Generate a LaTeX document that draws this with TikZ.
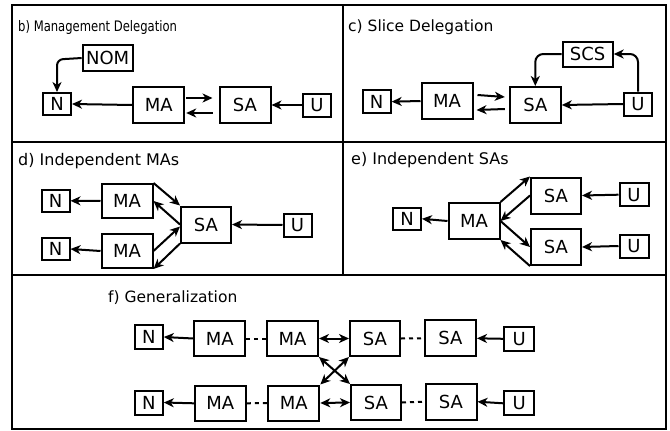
\documentclass[tikz,border=0pt]{standalone}
\usepackage{fontspec}
\setmainfont{DejaVu Sans}
\newfontfamily\condtitle[FakeStretch=0.8]{DejaVu Sans}
\newfontfamily\condnode[FakeStretch=0.85]{DejaVu Sans}
\usetikzlibrary{arrows.meta,calc}
\begin{document}
\begin{tikzpicture}[x=1pt,y=-1pt,
  bx/.style={draw,line width=2pt,inner sep=0pt,font=\fontsize{18}{18}\selectfont},
  bigbox/.style={bx,minimum width=51pt,minimum height=35pt},
  smallbox/.style={bx,minimum width=28pt,minimum height=23pt},
  nombox/.style={bx,minimum width=50pt,minimum height=26pt},
  ttl/.style={anchor=west,inner sep=0pt,font=\fontsize{15.5}{15.5}\selectfont},
  arr/.style={-{Stealth[length=10pt,width=9pt,inset=3pt]},line width=2pt},
  dbl/.style={{Stealth[length=10pt,width=9pt,inset=3pt]}-{Stealth[length=10pt,width=9pt,inset=3pt]},line width=2pt},
  dsh/.style={line width=2pt,dash pattern=on 4pt off 4pt},
  frame/.style={line width=2.3pt}]
\useasboundingbox (0,0) rectangle (670,431);
% frame
\draw[frame] (12,5) rectangle (666,429);
\draw[frame] (12,142) -- (666,142);
\draw[frame] (12,275) -- (666,275);
\draw[frame] (343,5) -- (343,275);
% titles
\node[ttl,font=\condtitle\fontsize{14.5}{14.5}\selectfont] (tb) at (18,27) {b) Management Delegation};
\node[ttl,font=\fontsize{15.5}{15.5}\selectfont] (tc) at (348,27) {c) Slice Delegation};
\node[ttl,font=\fontsize{16}{16}\selectfont] (td) at (18,161) {d) Independent MAs};
\node[ttl,font=\fontsize{16}{16}\selectfont] (te) at (351,160) {e) Independent SAs};
\node[ttl,font=\fontsize{15.5}{15.5}\selectfont] (tf) at (108,298) {f) Generalization};
% panel b
\begin{scope}[every node/.append style={font=\condnode\fontsize{18.5}{18.5}\selectfont}]
\node[nombox] (bNOM) at (107.7,58) {NOM};
\node[smallbox,minimum height=22pt] (bN) at (57,104) {N};
\node[bigbox,minimum height=36pt] (bMA) at (158.7,105) {MA};
\node[bigbox,minimum height=36pt] (bSA) at (245,105) {SA};
\node[smallbox] (bU) at (317,105) {U};
\end{scope}
\draw[arr] (bMA.west) -- (bN.east);
\draw[arr] ($(bMA.east)+(1,-7)$) -- ($(bSA.west)+(-6,-7)$);
\draw[arr] ($(bSA.west)+(-6,8)$) -- ($(bMA.east)+(1,8)$);
\draw[arr] (bU.west) -- (bSA.east);
\draw[arr,rounded corners=6pt] (bNOM.west) -- (57,59.5) -- (bN.north);
% panel c
\begin{scope}[every node/.append style={font=\fontsize{19}{19}\selectfont}]
\node[nombox,minimum height=25pt] (cSCS) at (587.7,54) {SCS};
\node[smallbox] (cN) at (376.7,101.7) {N};
\node[bigbox,minimum height=36pt] (cMA) at (447,101) {MA};
\node[bigbox,minimum height=36pt] (cSA) at (535.3,105) {SA};
\node[smallbox] (cU) at (638,104) {U};
\end{scope}
\draw[arr] (cMA.west) -- (cN.east);
\draw[arr] ($(cMA.east)+(4,-6)$) -- ($(cSA.west)+(-4,-8)$);
\draw[arr] ($(cSA.west)+(-4,4)$) -- ($(cMA.east)+(3,9)$);
\draw[arr] (cU.west) -- (cSA.east);
\draw[arr,rounded corners=8pt] (cU.north) -- (cU.north |- cSCS.east) -- (cSCS.east);
\draw[arr,rounded corners=8pt] (cSCS.west) -- (cSCS.west -| cSA.north) -- (cSA.north);
% panel d
\node[smallbox,minimum height=22pt] (dN1) at (55.5,200.8) {N};
\node[bigbox,minimum height=34pt] (dMA1) at (127,201) {MA};
\node[smallbox,minimum height=22pt] (dN2) at (55.5,249) {N};
\node[bigbox,minimum height=34pt] (dMA2) at (127,251) {MA};
\node[bigbox,minimum width=50pt,minimum height=36pt] (dSA) at (206,224.5) {SA};
\node[smallbox] (dU) at (297.5,225) {U};
\draw[arr] (dMA1.west) -- (dN1.east);
\draw[arr] (dMA2.west) -- (dN2.east);
\draw[arr] (dMA1.north east) -- (dSA.north west);
\draw[arr] ($(dSA.west)+(0,0)$) -- (dMA1.east);
\draw[arr] (dMA2.east) -- ($(dSA.west)+(0,2)$);
\draw[arr] (dSA.south west) -- (dMA2.south east);
\draw[arr] (dU.west) -- (dSA.east);
% panel e
\node[smallbox,minimum height=22pt] (eN) at (407,218.8) {N};
\node[bigbox,minimum height=36pt] (eMA) at (474,221) {MA};
\node[bigbox,minimum width=50pt,minimum height=36pt] (eSA1) at (556,195.5) {SA};
\node[bigbox,minimum width=50pt,minimum height=36pt] (eSA2) at (556,247) {SA};
\node[smallbox,minimum width=29pt] (eU1) at (634,194.7) {U};
\node[smallbox,minimum width=29pt] (eU2) at (634,246) {U};
\draw[arr] (eMA.west) -- (eN.east);
\draw[arr] (eMA.north east) -- (eSA1.north west);
\draw[arr] (eSA1.west) -- (eMA.east);
\draw[arr] (eMA.east) -- (eSA2.west);
\draw[arr] (eSA2.south west) -- (eMA.south east);
\draw[arr] (eU1.west) -- (eSA1.east);
\draw[arr] (eU2.west) -- (eSA2.east);
% panel f
\node[smallbox,minimum height=24pt] (fN1) at (148.8,337) {N};
\node[bigbox] (fMA1) at (219.7,338.5) {MA};
\node[bigbox] (fMA2) at (292.5,338.5) {MA};
\node[bigbox,minimum width=50pt] (fSA1) at (375,338.5) {SA};
\node[bigbox,minimum height=36pt] (fSA2) at (450.5,338.3) {SA};
\node[smallbox,minimum width=30pt,minimum height=24pt] (fU1) at (519.3,338.8) {U};
\node[smallbox,minimum height=24pt] (fN2) at (148.8,402.5) {N};
\node[bigbox] (fMA3) at (220.3,403.3) {MA};
\node[bigbox] (fMA4) at (293.8,403) {MA};
\node[bigbox,minimum width=50pt] (fSA3) at (376,402.5) {SA};
\node[bigbox,minimum height=36pt] (fSA4) at (451,401.7) {SA};
\node[smallbox,minimum width=30pt,minimum height=24pt] (fU2) at (519.3,403.3) {U};
\draw[arr] (fMA1.west) -- (fN1.east);
\draw[dsh] (fMA1.east) -- (fMA2.west);
\draw[dbl] (fMA2.east) -- (fSA1.west);
\draw[dsh] (fSA1.east) -- (fSA2.west);
\draw[arr] (fU1.west) -- (fSA2.east);
\draw[arr] (fMA3.west) -- (fN2.east);
\draw[dsh] (fMA3.east) -- (fMA4.west);
\draw[dbl] (fMA4.east) -- (fSA3.west);
\draw[dsh] (fSA3.east) -- (fSA4.west);
\draw[arr] (fU2.west) -- (fSA4.east);
\draw[dbl] (fMA2.south east) -- (fSA3.north west);
\draw[dbl] (fMA4.north east) -- (fSA1.south west);
\end{tikzpicture}
\end{document}
